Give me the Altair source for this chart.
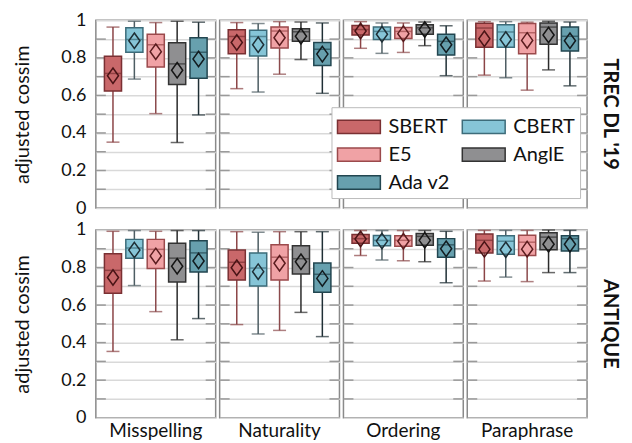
import altair as alt
import pandas as pd

models = ["SBERT", "CBERT", "E5", "AnglE", "Ada v2"]
datasets = ["TREC DL '19", "ANTIQUE"]
perturbations = ["Misspelling", "Naturality", "Ordering", "Paraphrase"]

fills = ["#c9686a", "#86c5d7", "#f0a2a5", "#8f8f91", "#67a0ae"]
strokes = ["#7a3033", "#3d6c7a", "#9b4a4c", "#333333", "#224650"]
whisker_cols = ["#8b4446", "#4d5d63", "#8b4a4c", "#2b2b2b", "#1f2f35"]
mean_cols = ["#4a1416", "#1e2f36", "#5a1c1e", "#151515", "#121c20"]

# values per dataset: perturbation-major (Misspelling, Naturality, Ordering, Paraphrase), model-minor
trec_lo = [0.351, 0.687, 0.503, 0.349, 0.496,
           0.636, 0.618, 0.713, 0.791, 0.611,
           0.851, 0.824, 0.829, 0.865, 0.705,
           0.708, 0.694, 0.628, 0.736, 0.651]
trec_q1 = [0.623, 0.830, 0.751, 0.658, 0.692,
           0.822, 0.810, 0.853, 0.889, 0.760,
           0.922, 0.898, 0.903, 0.926, 0.815,
           0.857, 0.857, 0.822, 0.872, 0.836]
trec_med = [0.717, 0.898, 0.870, 0.768, 0.830,
            0.914, 0.914, 0.943, 0.939, 0.846,
            0.951, 0.941, 0.941, 0.960, 0.888,
            0.959, 0.938, 0.934, 0.964, 0.915]
trec_q3 = [0.808, 0.960, 0.926, 0.881, 0.907,
           0.950, 0.947, 0.965, 0.955, 0.882,
           0.972, 0.964, 0.962, 0.977, 0.926,
           0.984, 0.977, 0.983, 0.986, 0.964]
trec_hi = [0.964, 0.995, 0.988, 0.995, 0.990,
           0.988, 0.983, 0.993, 0.991, 0.986,
           0.993, 0.986, 0.986, 0.991, 0.971,
           0.993, 0.993, 0.990, 0.995, 0.991]
trec_mean = [0.705, 0.891, 0.833, 0.734, 0.794,
             0.882, 0.870, 0.907, 0.915, 0.820,
             0.943, 0.926, 0.929, 0.951, 0.870,
             0.902, 0.898, 0.893, 0.922, 0.891]

antique_lo = [0.353, 0.704, 0.565, 0.415, 0.528,
              0.496, 0.446, 0.465, 0.561, 0.432,
              0.864, 0.840, 0.836, 0.831, 0.719,
              0.728, 0.749, 0.725, 0.773, 0.773]
antique_q1 = [0.663, 0.850, 0.795, 0.723, 0.776,
              0.733, 0.701, 0.733, 0.766, 0.668,
              0.929, 0.916, 0.914, 0.919, 0.855,
              0.878, 0.871, 0.864, 0.895, 0.888]
antique_med = [0.785, 0.904, 0.897, 0.850, 0.878,
               0.828, 0.797, 0.855, 0.847, 0.764,
               0.954, 0.945, 0.945, 0.966, 0.921,
               0.945, 0.940, 0.935, 0.962, 0.954]
antique_q3 = [0.873, 0.950, 0.950, 0.929, 0.943,
              0.893, 0.878, 0.921, 0.916, 0.824,
              0.976, 0.971, 0.969, 0.981, 0.954,
              0.979, 0.969, 0.972, 0.985, 0.969]
antique_hi = [0.993, 0.997, 0.993, 0.997, 0.997,
              0.991, 0.988, 0.991, 0.991, 0.991,
              0.997, 0.997, 0.997, 0.997, 0.993,
              0.998, 0.998, 0.998, 1.000, 0.998]
antique_mean = [0.747, 0.893, 0.862, 0.807, 0.835,
                0.799, 0.778, 0.823, 0.831, 0.742,
                0.952, 0.941, 0.940, 0.945, 0.900,
                0.897, 0.895, 0.898, 0.924, 0.924]

grid_values = [0.1, 0.2, 0.3, 0.4, 0.5, 0.6, 0.7, 0.8, 0.9]
axis_values = [0, 0.1, 0.2, 0.3, 0.4, 0.5, 0.6, 0.7, 0.8, 0.9, 1]

stats = {
    datasets[0]: (trec_lo, trec_q1, trec_med, trec_q3, trec_hi, trec_mean),
    datasets[1]: (antique_lo, antique_q1, antique_med, antique_q3, antique_hi, antique_mean),
}

rows = []
for ds in datasets:
    lo, q1, med, q3, hi, mean = stats[ds]
    for pi, p in enumerate(perturbations):
        for mi, m in enumerate(models):
            k = pi * 5 + mi
            rows.append(dict(kind="box", dataset=ds, perturbation=p, model=m,
                             lo=lo[k], q1=q1[k], med=med[k], q3=q3[k], hi=hi[k],
                             mean=mean[k], wcol=whisker_cols[mi],
                             mcol=strokes[mi], dcol=mean_cols[mi]))
        for t in grid_values:
            rows.append(dict(kind="tick", dataset=ds, perturbation=p, tv=t))
df = pd.DataFrame(rows)

FONT = "Lato"
TITLE = "adjusted cossim"
W, H = 120, 188
xenc = alt.X("model:N", sort=models,
             scale=alt.Scale(paddingInner=0.2, paddingOuter=0.4), axis=None)
yscale = alt.Scale(domain=[0, 1], nice=False)
yaxis = alt.Axis(values=axis_values, format="~g",
                 labelExpr="round(datum.value*10) % 2 == 0 ? datum.label : ''",
                 grid=True, gridColor="#d9d9d9", gridWidth=1.5,
                 ticks=False, domain=False, labelPadding=8,
                 labelFontSize=18, titleFontSize=20,
                 titleFontWeight="normal", titlePadding=28,
                 labelColor="#111", titleColor="#111")


def Y(field):
    return alt.Y(field, scale=yscale, axis=yaxis, title=TITLE)


base = alt.Chart().transform_filter(alt.datum.kind == "box")
tbase = alt.Chart().transform_filter(alt.datum.kind == "tick")

ticks_left = tbase.mark_rule(color="#9a9a9a", strokeWidth=1.5).encode(
    y=Y("tv:Q"), x=alt.value(0), x2=alt.value(10))
ticks_right = tbase.mark_rule(color="#9a9a9a", strokeWidth=1.5).encode(
    y=Y("tv:Q"), x=alt.value(W - 10), x2=alt.value(W))

whisker = base.mark_rule(strokeWidth=1.5).encode(
    x=xenc, y=Y("lo:Q"), y2="hi:Q",
    color=alt.Color("wcol:N", scale=None))
cap_lo = base.mark_tick(size=13, thickness=1.5).encode(
    x=xenc, y=Y("lo:Q"), color=alt.Color("wcol:N", scale=None))
cap_hi = base.mark_tick(size=13, thickness=1.5).encode(
    x=xenc, y=Y("hi:Q"), color=alt.Color("wcol:N", scale=None))

legend = alt.Legend(
    orient="none", legendX=236, legendY=87, columns=2, direction="horizontal",
    title=None, symbolType="M-1.6,-0.5H1.6V0.5H-1.6Z", symbolSize=720,
    symbolOffset=8, symbolStrokeWidth=1.5, labelFontSize=20, labelFont=FONT,
    labelColor="#111", labelOffset=15, padding=5, rowPadding=3,
    columnPadding=9, strokeColor="#bbbbbb", fillColor="white",
    cornerRadius=0, labelLimit=200)

box = base.mark_bar(strokeWidth=1.5, opacity=1).encode(
    x=xenc, y=Y("q1:Q"), y2="q3:Q",
    fill=alt.Fill("model:N", scale=alt.Scale(domain=models, range=fills), legend=legend),
    stroke=alt.Stroke("model:N", scale=alt.Scale(domain=models, range=strokes), legend=legend))

median = base.mark_tick(size=17, thickness=1.5).encode(
    x=xenc, y=Y("med:Q"), color=alt.Color("mcol:N", scale=None))

mean_pt = base.mark_point(shape="M0,-1L0.72,0L0,1L-0.72,0Z", size=240,
                          filled=False, strokeWidth=1.5, opacity=1).encode(
    x=xenc, y=Y("mean:Q"), color=alt.Color("dcol:N", scale=None))

layered = alt.layer(ticks_left, ticks_right, whisker, cap_lo, cap_hi, box,
                    median, mean_pt, data=df).properties(width=W, height=H)

chart = layered.facet(
    row=alt.Row("dataset:N", sort=datasets,
                header=alt.Header(title=None, labelOrient="right", labelAngle=90,
                                  labelAlign="center", labelFontWeight="bold",
                                  labelFontSize=20, labelFont=FONT,
                                  labelPadding=11, labelColor="#111")),
    column=alt.Column("perturbation:N", sort=perturbations,
                      header=alt.Header(title=None, labelOrient="bottom",
                                        labelFontSize=19, labelFont=FONT,
                                        labelPadding=3, labelColor="#111")),
    spacing={"row": 18, "column": 0},
).configure_view(stroke="#8a8a8a", strokeWidth=1.5).configure_axis(
    labelFont=FONT, titleFont=FONT
).properties(padding={"left": 4, "top": 3, "right": 4, "bottom": 0})

chart.save("out.html", embed_options={"renderer": "svg", "actions": False})
